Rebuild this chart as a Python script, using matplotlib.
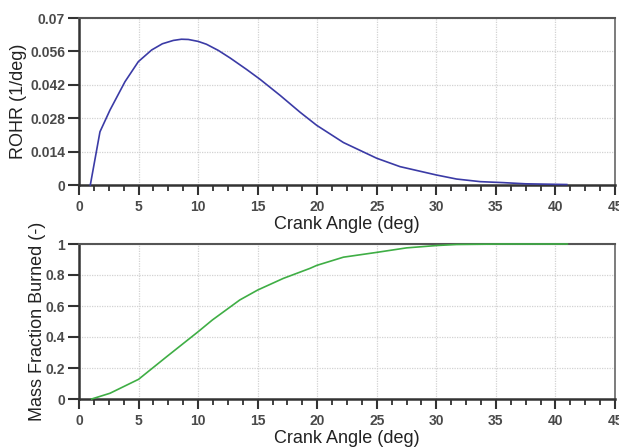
import matplotlib
matplotlib.use("Agg")
import matplotlib.pyplot as plt
from matplotlib.ticker import MultipleLocator, FixedLocator

# ROHR data (1/deg)
rohr_angle = [0.95, 1.76, 2.6, 3.86, 4.98, 6.1, 7.0, 7.92, 8.6, 9.18, 10.0, 10.7, 11.7, 12.7, 14.08, 15.2, 16.9,
              18.56, 19.96, 22.2, 25.0, 26.95, 30.0, 31.7, 33.7, 35.6, 37.5, 40.95]
rohr_value = [0.0, 0.0223, 0.0314, 0.0433, 0.0517, 0.0566, 0.0592, 0.0606, 0.0611, 0.0610, 0.0602, 0.0590, 0.0564, 0.0532, 0.0484, 0.0443, 0.0375,
              0.0305, 0.0250, 0.0178, 0.0112, 0.0077, 0.0042, 0.0025, 0.0014, 0.0010, 0.0005, 0.0002]

# Mass fraction burned data (-)
mfb_angle = [1.06, 2.6, 5.0, 7.36, 10.0, 11.2, 13.5, 15.0, 17.15, 19.4, 19.96, 22.2, 25.0, 27.5, 30.0, 31.7, 35.5, 41.0]
mfb_value = [0.0, 0.037, 0.127, 0.273, 0.434, 0.51, 0.639, 0.703, 0.778, 0.843, 0.862, 0.915, 0.946, 0.975, 0.99, 0.997, 1.0, 1.0]

x_ticks = [0, 5, 10, 15, 20, 25, 30, 35, 40, 45]
rohr_ticks = [0, 0.014, 0.028, 0.042, 0.056, 0.07]
rohr_ticklabels = ["0", "0.014", "0.028", "0.042", "0.056", "0.07"]
mfb_ticks = [0, 0.2, 0.4, 0.6, 0.8, 1.0]
mfb_ticklabels = ["0", "0.2", "0.4", "0.6", "0.8", "1"]

plt.rcParams['font.family'] = ['Liberation Sans', 'DejaVu Sans']

fig = plt.figure(figsize=(6.19, 4.48), dpi=100)
W, H = 619, 448
ax1 = fig.add_axes([79 / W, 1 - 185 / H, (615 - 79) / W, (185 - 18) / H])
ax2 = fig.add_axes([79 / W, 1 - 399 / H, (615 - 79) / W, (399 - 244) / H])


def style(ax, yticks, yticklabels, ylim, ylabel, labelx):
    ax.set_xlim(0, 45)
    ax.set_ylim(*ylim)
    ax.xaxis.set_major_locator(FixedLocator(x_ticks))
    ax.xaxis.set_minor_locator(MultipleLocator(1.25))
    ax.set_xticklabels([str(t) for t in x_ticks])
    ax.set_yticks(yticks)
    ax.set_yticklabels(yticklabels)
    ax.grid(True, which='major', color='#d2d2d2', linestyle=(0, (1, 1)), linewidth=0.9)
    ax.set_axisbelow(True)
    for s in ['left', 'bottom']:
        ax.spines[s].set_color('#333333')
        ax.spines[s].set_linewidth(1.8)
    ax.spines['top'].set_color('#555555')
    ax.spines['top'].set_linewidth(1.5)
    ax.spines['right'].set_color('#666666')
    ax.spines['right'].set_linewidth(1.2)
    ax.tick_params(axis='x', which='major', direction='out', length=7, width=1.5, color='#333333',
                   labelsize=10, labelcolor='#4a4a4a', pad=4)
    ax.tick_params(axis='x', which='minor', direction='out', length=4, width=1.3, color='#333333')
    ax.tick_params(axis='y', which='major', direction='out', length=8, width=1.5, color='#333333',
                   labelsize=10, labelcolor='#4a4a4a', pad=2)
    for lab in ax.get_xticklabels() + ax.get_yticklabels():
        lab.set_fontweight('bold')
    ax.set_xlabel('Crank Angle (deg)', fontsize=13, color='#222222', labelpad=1)
    ax.set_ylabel(ylabel, fontsize=13, color='#222222')
    ax.yaxis.set_label_coords(labelx, 0.5)


ax1.plot(rohr_angle, rohr_value, color='#3b3ba6', linewidth=1.2, clip_on=False, zorder=3)
style(ax1, rohr_ticks, rohr_ticklabels, (0, 0.07), 'ROHR (1/deg)', -0.097)

ax2.plot(mfb_angle, mfb_value, color='#3fae45', linewidth=1.2, clip_on=False, zorder=3)
style(ax2, mfb_ticks, mfb_ticklabels, (0, 1.0), 'Mass Fraction Burned (-)', -0.062)

fig.savefig('out.png', dpi=100)
